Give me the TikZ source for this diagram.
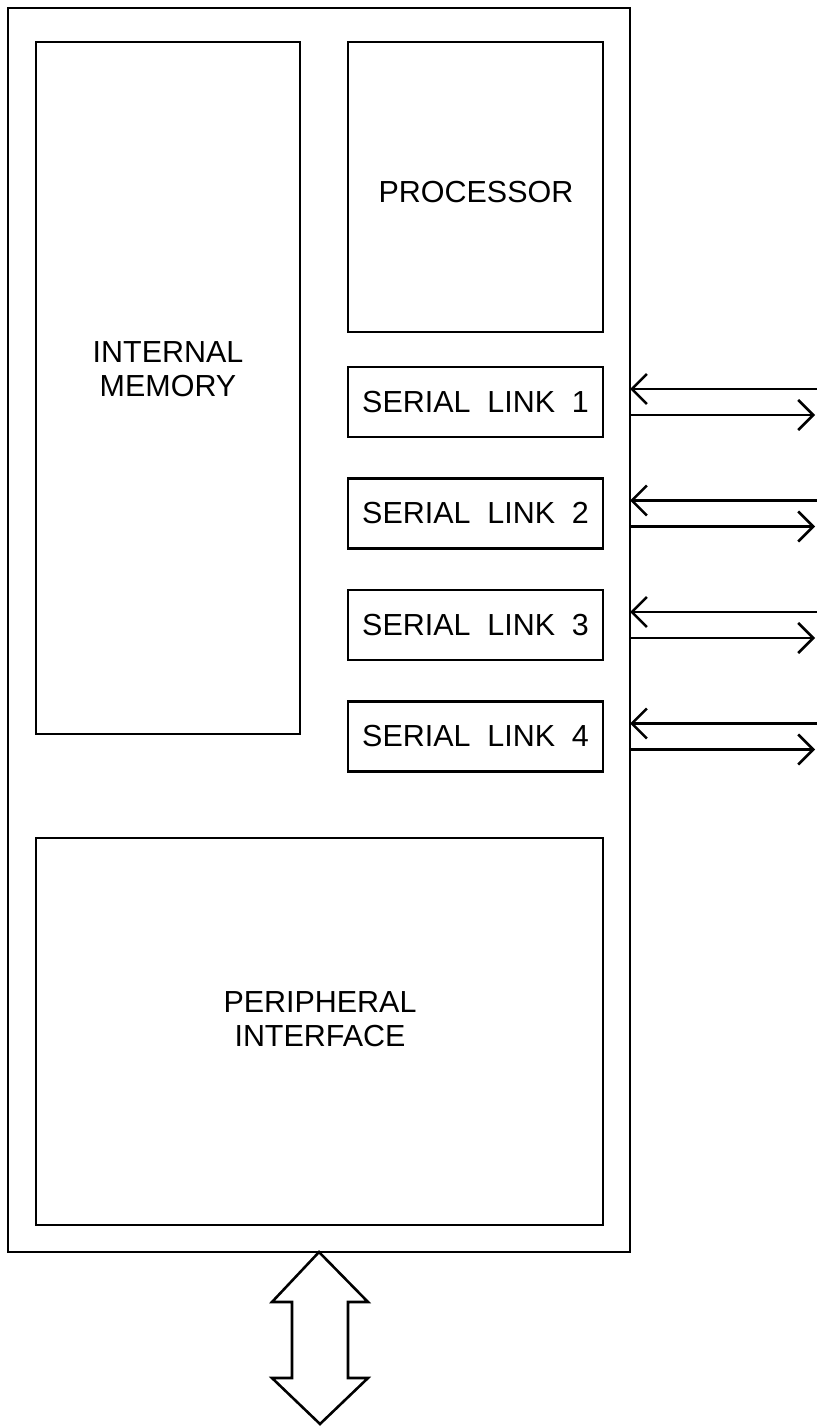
\documentclass[tikz,border=0pt]{standalone}
\usepackage{fontspec}
\usetikzlibrary{arrows.meta,calc}
\newfontfamily\blkfont{Liberation Sans}
\tikzset{
  blk/.style={draw, line width=2.2pt, inner sep=0pt, outer sep=0pt, anchor=north west},
  lbl/.style={align=center, inner sep=0pt, font=\blkfont\fontsize{26}{29}\selectfont},
  sig/.style={line width=2.2pt, -{Straight Barb[length=0.45cm, width=0.9cm, line width=2.2pt]}}
}

\begin{document}
\begin{tikzpicture}[x=0.03cm, y=-0.03cm]
			%%%%% START %%%%%
			\useasboundingbox (0, 0) rectangle (817, 1426);
			
			% chip outline and the big blocks (sizes: px * 0.03cm)
			\node[blk, minimum width=18.66cm, minimum height=37.32cm] (chip) at (8, 8) {};
			\node[blk, minimum width=7.92cm, minimum height=20.76cm] (mem) at (36, 42) {};
			\node[blk, minimum width=7.65cm, minimum height=8.7cm] (proc) at (348, 42) {};
			\node[blk, minimum width=17.01cm, minimum height=11.61cm] (periph) at (36, 838) {};
			
			\node[lbl] (memtxt) at (168, 369) {INTERNAL\\MEMORY};
			\node[lbl] (proctxt) at (476, 192) {PROCESSOR};
			\node[lbl] (periphtxt) at (320, 1019) {PERIPHERAL\\INTERFACE};
			
			% serial links with their in and out wires
			\foreach \i in {1,...,4} {
				\pgfmathsetmacro\ytop{367+(\i-1)*111.5}
				\node[blk, minimum width=7.65cm, minimum height=2.1cm] (link\i) at (348, \ytop) {};
				\node[lbl] (link\i txt) at (link\i) {SERIAL\hspace{0.55em}LINK\hspace{0.55em}\i};
				\coordinate (in\i) at (817, \ytop+22);
				\coordinate (out\i) at (815, \ytop+48);
				\draw[sig] (in\i) -- (in\i -| chip.east);
				\draw[sig] (out\i -| chip.east) -- (out\i);
			}
			
			% bus arrow
			\draw[line width=2.2pt, line join=miter] (chip.south) -- (368, 1302) -- (348, 1302) -- (348, 1378)
				-- (368, 1378) -- (320, 1424) -- (272, 1378) -- (292, 1378) -- (292, 1302) -- (272, 1302) -- cycle;
			
			%%%%% END %%%%%
\end{tikzpicture}
\end{document}
